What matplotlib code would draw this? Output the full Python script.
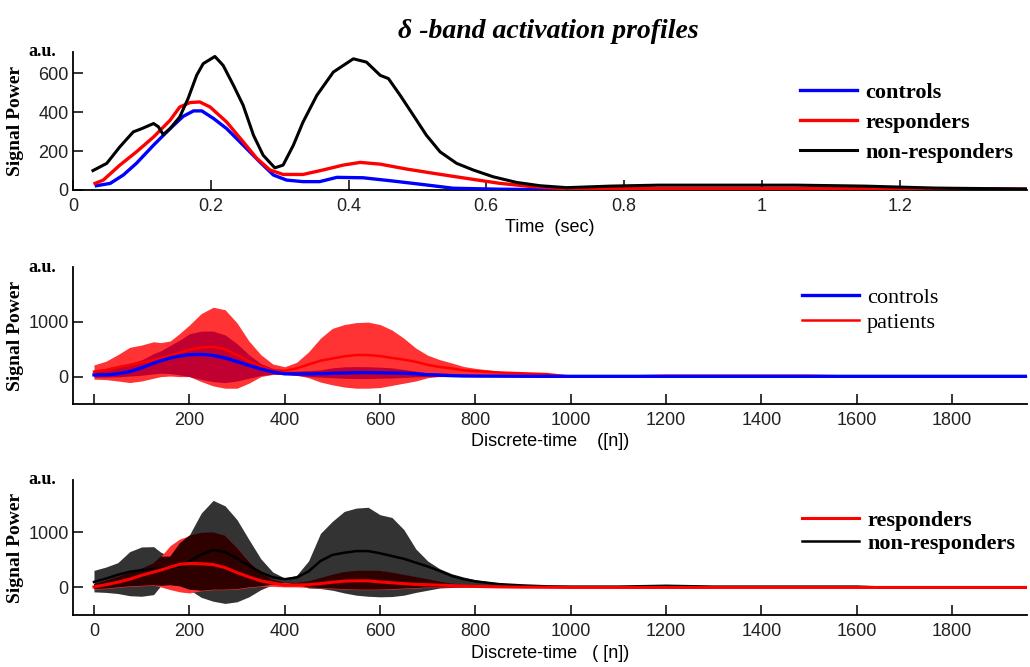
import numpy as np
import matplotlib
matplotlib.use("Agg")
import matplotlib.pyplot as plt

# ---------------- data ----------------
# Panel 1: mean activation profiles vs time (sec)
t_controls = [0.034, 0.054, 0.073, 0.092, 0.117, 0.141, 0.160, 0.175, 0.187, 0.204, 0.223, 0.247,
              0.271, 0.291, 0.310, 0.334, 0.358, 0.383, 0.421, 0.465, 0.513, 0.552, 0.620, 0.690, 1.385]
v_controls = [22, 34, 77, 137, 231, 316, 379, 407, 407, 368, 316, 231,
              145, 77, 51, 43, 43, 65, 63, 46, 26, 9, 4, 2, 2]

t_responders = [0.032, 0.044, 0.068, 0.092, 0.117, 0.141, 0.155, 0.170, 0.184, 0.199, 0.223, 0.247,
                0.267, 0.286, 0.305, 0.334, 0.363, 0.392, 0.417, 0.446, 0.484, 0.523, 0.571, 0.620,
                0.668, 0.707, 0.800, 1.000, 1.200, 1.385]
v_responders = [34, 51, 128, 196, 273, 359, 427, 450, 453, 427, 350, 248,
                162, 103, 80, 80, 103, 128, 142, 133, 108, 86, 60, 34,
                17, 9, 8, 8, 8, 5]

t_nonresp = [0.029, 0.049, 0.068, 0.0875, 0.100, 0.117, 0.124, 0.131, 0.141, 0.155, 0.167, 0.1795,
             0.189, 0.206, 0.218, 0.233, 0.247, 0.262, 0.276, 0.293, 0.305, 0.320, 0.334, 0.354,
             0.378, 0.407, 0.426, 0.446, 0.458, 0.475, 0.494, 0.513, 0.533, 0.557, 0.581, 0.610,
             0.644, 0.678, 0.717, 0.780, 0.850, 0.950, 1.050, 1.150, 1.200, 1.250, 1.385]
v_nonresp = [100, 137, 222, 299, 316, 342, 325, 285, 316, 376, 470, 590,
             650, 687, 641, 538, 436, 282, 179, 114, 128, 231, 350, 487,
             607, 675, 658, 590, 573, 487, 385, 282, 196, 137, 103, 68,
             39, 22, 12, 20, 25, 25, 25, 20, 15, 10, 5]

# Panels 2 & 3: discrete-time sample index
n = [0, 25, 50, 75, 100, 125, 140, 160, 180, 200, 225, 250, 275, 300, 325, 350, 375, 400,
     425, 450, 475, 500, 525, 550, 575, 600, 625, 650, 675, 700, 725, 750, 775, 800,
     850, 900, 950, 1000, 1100, 1200, 1300, 1400, 1500, 1600, 1650, 1960]

# Panel 2: controls vs patients (mean and band)
pat_mean = [90, 120, 170, 213, 255, 300, 340, 385, 436, 490, 530, 545, 500, 395, 280, 180, 115, 105,
            150, 220, 290, 330, 370, 394, 394, 375, 340, 310, 270, 213, 175, 150, 115, 100,
            75, 60, 45, 0, 0, 15, 15, 15, 15, 0, 0, 0]
pat_hi = [213, 280, 400, 534, 576, 636, 620, 650, 789, 940, 1150, 1265, 1220, 980, 650, 400, 230, 180,
          260, 450, 700, 880, 950, 985, 994, 950, 850, 700, 520, 390, 310, 250, 185, 150,
          100, 62, 46, 30, 0, 0, 0, 0, 0, 0, 0, 0]
pat_lo = [-47, -55, -80, -109, -80, -30, 0, 10, 0, 0, -90, -170, -212, -212, -120, 0, 40, 40,
          30, -20, -100, -150, -190, -212, -212, -200, -160, -120, -80, -20, 5, 13, 10, 5,
          0, 0, 0, 0, 0, 0, 0, 0, 0, 0, 0, 0]
ctl_mean = [31, 31, 50, 91, 160, 245, 290, 340, 376, 400, 405, 385, 340, 273, 205, 140, 85, 50,
            48, 49, 52, 60, 66, 72, 73, 70, 66, 62, 50, 35, 28, 18, 12, 10,
            8, 6, 5, 5, 5, 5, 5, 5, 5, 5, 5, 5]
ctl_hi = [122, 150, 200, 243, 305, 420, 470, 570, 667, 780, 830, 830, 760, 600, 400, 235, 150, 95,
          100, 110, 122, 160, 178, 182, 180, 172, 160, 130, 100, 65, 45, 25, 13, 10,
          8, 6, 5, 5, 5, 5, 5, 5, 5, 5, 5, 5]
ctl_lo = [-11, -10, -5, 10, 25, 50, 62, 55, 31, 0, -50, -91, -110, -80, -30, 20, 45, 45,
          20, 0, -10, -20, -30, -35, -35, -30, -25, -15, -5, 0, 0, 0, 0, 0,
          0, 0, 0, 0, 0, 0, 0, 0, 0, 0, 0, 0]

# Panel 3: responders vs non-responders (mean and band)
res_mean = [10, 50, 95, 150, 220, 280, 315, 370, 420, 435, 430, 415, 360, 270, 190, 120, 80, 45,
            45, 50, 70, 95, 115, 120, 120, 100, 85, 70, 55, 50, 42, 35, 25, 18,
            10, 5, 3, 0, 0, 0, 0, 0, 0, 0, 0, 0]
res_hi = [60, 120, 190, 270, 340, 440, 560, 760, 880, 940, 990, 1000, 940, 720, 470, 260, 140, 90,
          80, 110, 170, 230, 280, 300, 305, 300, 270, 230, 190, 150, 105, 70, 42, 25,
          12, 6, 2, 0, 0, 0, 0, 0, 0, 0, 0, 0]
res_lo = [-30, -20, 0, 20, 30, 40, 10, -40, -80, -100, -60, -40, -40, -30, 0, 20, 20, 10,
          10, 0, -10, -20, -30, -40, -40, -40, -30, -20, -10, 0, 0, 0, 0, 0,
          0, 0, 0, 0, 0, 0, 0, 0, 0, 0, 0, 0]
nr_mean = [100, 160, 230, 285, 315, 335, 345, 360, 380, 470, 600, 680, 640, 530, 400, 270, 185, 150,
           180, 290, 480, 590, 630, 660, 660, 620, 570, 520, 450, 380, 300, 210, 150, 110,
           60, 36, 20, 15, 15, 30, 15, 15, 15, 15, 0, 0]
nr_hi = [310, 370, 450, 650, 735, 740, 640, 560, 800, 950, 1350, 1580, 1480, 1230, 870, 520, 280, 170,
         220, 480, 980, 1200, 1380, 1440, 1455, 1320, 1270, 1050, 700, 480, 340, 250, 190, 140,
         80, 42, 20, 10, 30, 40, 20, 20, 20, 20, 0, 0]
nr_lo = [-80, -90, -110, -150, -160, -130, 30, 40, 20, -40, -180, -250, -290, -260, -170, -40, 50, 90,
         50, -10, -20, -50, -100, -140, -160, -170, -165, -140, -90, -50, -10, 0, 5, 5,
         5, 3, 0, 0, 0, 0, 0, 0, 0, 0, 0, 0]

# ---------------- style ----------------
SERIF = ["Liberation Serif", "DejaVu Serif"]
SANS = ["Liberation Sans", "DejaVu Sans"]
plt.rcParams["font.family"] = SANS
plt.rcParams["axes.linewidth"] = 1.3

fig = plt.figure(figsize=(10.30, 6.67), dpi=100)

W, H = 1030.0, 667.0
def axes_px(left, top, right, bottom):
    return fig.add_axes([left / W, 1 - bottom / H, (right - left) / W, (bottom - top) / H])

ax1 = axes_px(73, 52, 1027, 190)
ax2 = axes_px(73, 267, 1027, 404)
ax3 = axes_px(73, 480, 1027, 615)

def style_axes(ax):
    for s in ("top", "right"):
        ax.spines[s].set_visible(False)
    ax.tick_params(direction="in", length=7, width=1.1, labelsize=13, colors="black",
                   labelcolor="#222222", pad=6)
    ax.tick_params(axis="y", pad=3)
    ax.set_ylabel("Signal Power", fontfamily=SERIF, fontweight="bold", fontsize=14)
    ax.yaxis.set_label_coords(-0.051, 0.5)
    ax.text(-0.018, 1.0, "a.u.", transform=ax.transAxes, ha="right", va="center",
            fontfamily=SERIF, fontweight="bold", fontsize=13)

LEG_KW = dict(loc="upper left", frameon=False, handlelength=2.6, handletextpad=0.35, borderpad=0)

# Panel 1
ax1.plot(t_controls, v_controls, color="#0000FF", lw=2.4, label="controls", zorder=3)
ax1.plot(t_responders, v_responders, color="#FF0000", lw=2.4, label="responders", zorder=4)
ax1.plot(t_nonresp, v_nonresp, color="black", lw=2.2, label="non-responders", zorder=5)
ax1.set_xlim(0, 1.385)
ax1.set_ylim(0, 710)
ax1.set_xticks([0, 0.2, 0.4, 0.6, 0.8, 1.0, 1.2])
ax1.set_xticklabels(["0", "0.2", "0.4", "0.6", "0.8", "1", "1.2"])
ax1.set_yticks([0, 200, 400, 600])
style_axes(ax1)
ax1.set_xlabel("Time  (sec)", fontsize=13, labelpad=3)
ax1.legend(bbox_to_anchor=(0.750, 0.86), prop={"family": SERIF, "weight": "bold", "size": 16},
           labelspacing=0.42, **LEG_KW)

# Panel 2
ax2.fill_between(n, pat_lo, pat_hi, color="#FF3333", lw=0, zorder=1)
ax2.fill_between(n, ctl_lo, ctl_hi, color="#C00030", lw=0, zorder=2)
ax2.plot(n, pat_mean, color="#FF0000", lw=1.8, label="patients", zorder=3)
ax2.plot(n, ctl_mean, color="#0000FF", lw=2.4, label="controls", zorder=4)
ax2.set_xlim(-44, 1957)
ax2.set_ylim(-500, 2000)
ax2.set_xticks([0, 200, 400, 600, 800, 1000, 1200, 1400, 1600, 1800])
ax2.set_xticklabels(["", "200", "400", "600", "800", "1000", "1200", "1400", "1600", "1800"])
ax2.set_yticks([0, 1000])
style_axes(ax2)
ax2.set_xlabel("Discrete-time    ([n])", fontsize=13, labelpad=3)
h2, l2 = ax2.get_legend_handles_labels()
ax2.legend([h2[1], h2[0]], [l2[1], l2[0]], bbox_to_anchor=(0.752, 0.93),
           prop={"family": SERIF, "size": 16}, labelspacing=0.18, **LEG_KW)

# Panel 3
nr_lo_a, nr_hi_a = np.array(nr_lo), np.array(nr_hi)
res_lo_a, res_hi_a = np.array(res_lo), np.array(res_hi)
ov_lo = np.maximum(nr_lo_a, res_lo_a)
ov_hi = np.minimum(nr_hi_a, res_hi_a)
ax3.fill_between(n, nr_lo, nr_hi, color="#333333", lw=0, zorder=1)
ax3.fill_between(n, res_lo, res_hi, color="#FF3333", lw=0, zorder=2)
ax3.fill_between(n, ov_lo, ov_hi, where=ov_hi > ov_lo, interpolate=True,
                 color="#2E0000", lw=0, zorder=3)
ax3.plot(n, nr_mean, color="black", lw=1.8, label="non-responders", zorder=4)
ax3.plot(n, res_mean, color="#FF0000", lw=2.2, label="responders", zorder=5)
ax3.set_xlim(-44, 1957)
ax3.set_ylim(-500, 1950)
ax3.set_xticks([0, 200, 400, 600, 800, 1000, 1200, 1400, 1600, 1800])
ax3.set_yticks([0, 1000])
style_axes(ax3)
ax3.set_xlabel("Discrete-time   ( [n])", fontsize=13, labelpad=3)
h3, l3 = ax3.get_legend_handles_labels()
ax3.legend([h3[1], h3[0]], [l3[1], l3[0]], bbox_to_anchor=(0.752, 0.86),
           prop={"family": SERIF, "weight": "bold", "size": 16}, labelspacing=0.12, **LEG_KW)

fig.text(0.532, 0.953, "δ -band activation profiles", ha="center", va="center",
         fontfamily=SERIF, fontweight="bold", fontstyle="italic", fontsize=20)

fig.savefig("out.png", dpi=100)
